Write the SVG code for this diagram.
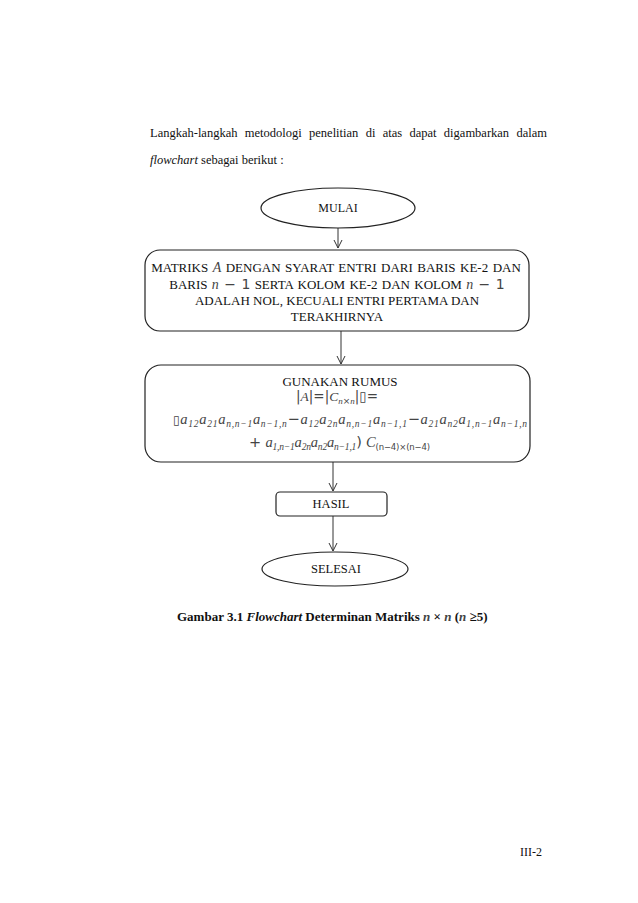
<svg xmlns="http://www.w3.org/2000/svg" width="638" height="903" viewBox="0 0 638 903">
<style>
  .t { font-family: "Liberation Serif", "Times New Roman", serif; fill: #111; }
  .m { font-family: "Liberation Serif", "DejaVu Serif", serif; font-style: italic; fill: #444; }
  .mu { font-family: "DejaVu Sans", "Liberation Sans", sans-serif; fill: #444; }
  .shape { fill: #fff; stroke: #222; stroke-width: 1.2; }
  .conn line { stroke: #333; stroke-width: 1; }
</style>
<defs>
  <marker id="arr" viewBox="0 0 10 10" refX="9" refY="5" markerWidth="10" markerHeight="10" markerUnits="userSpaceOnUse" orient="auto">
    <path d="M1,1 L9,5 L1,9" fill="none" stroke="#333" stroke-width="1"/>
  </marker>
</defs>
<rect width="638" height="903" fill="#fff"/>

<g id="intro">
  <text class="t" x="150" y="137" font-size="12.5" word-spacing="4.2">Langkah-langkah metodologi penelitian di atas  dapat digambarkan dalam</text>
  <text class="t" x="150" y="164" font-size="12.5"><tspan font-style="italic">flowchart</tspan> sebagai berikut :</text>
</g>

<g class="conn" id="connectors">
  <line x1="338" y1="228" x2="338" y2="248" marker-end="url(#arr)"/>
  <line x1="341" y1="331" x2="341" y2="364" marker-end="url(#arr)"/>
  <line x1="333" y1="462" x2="333" y2="491" marker-end="url(#arr)"/>
  <line x1="333" y1="516" x2="333" y2="551" marker-end="url(#arr)"/>
</g>

<g id="mulai">
  <ellipse class="shape" cx="338" cy="208" rx="77" ry="20"/>
  <text class="t" x="338" y="212" font-size="12" text-anchor="middle">MULAI</text>
</g>

<g id="matriks">
  <rect class="shape" x="145" y="250" width="384" height="81" rx="15"/>
  <text class="t" x="336" y="272" font-size="13" text-anchor="middle" word-spacing="1.2">MATRIKS <tspan class="m" font-size="14">A</tspan> DENGAN SYARAT ENTRI DARI BARIS KE-2 DAN</text>
  <text class="t" x="337" y="289" font-size="13" text-anchor="middle" word-spacing="1">BARIS <tspan class="m" font-size="14">n</tspan><tspan class="mu" font-size="14"> − 1</tspan> SERTA KOLOM KE-2  DAN KOLOM <tspan class="m" font-size="14">n</tspan><tspan class="mu" font-size="14"> − 1</tspan></text>
  <text class="t" x="337" y="305" font-size="13" text-anchor="middle">ADALAH NOL, KECUALI ENTRI PERTAMA DAN</text>
  <text class="t" x="337" y="321" font-size="13" text-anchor="middle">TERAKHIRNYA</text>
</g>

<g id="rumus">
  <rect class="shape" x="145" y="365" width="385" height="97" rx="16"/>
  <text class="t" x="340" y="386" font-size="13" text-anchor="middle">GUNAKAN RUMUS</text>
  <text x="337" y="401" font-size="13.5" text-anchor="middle"><tspan class="mu">|</tspan><tspan class="m">A</tspan><tspan class="mu">|=|</tspan><tspan class="m">C</tspan><tspan class="m" font-size="9" dy="3">n</tspan><tspan class="mu" font-size="9">×</tspan><tspan class="m" font-size="9">n</tspan><tspan class="mu" dy="-3">|▯=</tspan></text>
  <text x="173" y="424" font-size="14.5" textLength="354" lengthAdjust="spacing"><tspan class="mu" font-size="12">▯</tspan><tspan class="m">a</tspan><tspan class="m" font-size="9.5" dy="3">12</tspan><tspan class="m" dy="-3">a</tspan><tspan class="m" font-size="9.5" dy="3">21</tspan><tspan class="m" dy="-3">a</tspan><tspan class="m" font-size="9.5" dy="3">n,n−1</tspan><tspan class="m" dy="-3">a</tspan><tspan class="m" font-size="9.5" dy="3">n−1,n</tspan><tspan class="mu" dy="-3">−</tspan><tspan class="m">a</tspan><tspan class="m" font-size="9.5" dy="3">12</tspan><tspan class="m" dy="-3">a</tspan><tspan class="m" font-size="9.5" dy="3">2n</tspan><tspan class="m" dy="-3">a</tspan><tspan class="m" font-size="9.5" dy="3">n,n−1</tspan><tspan class="m" dy="-3">a</tspan><tspan class="m" font-size="9.5" dy="3">n−1,1</tspan><tspan class="mu" dy="-3">−</tspan><tspan class="m">a</tspan><tspan class="m" font-size="9.5" dy="3">21</tspan><tspan class="m" dy="-3">a</tspan><tspan class="m" font-size="9.5" dy="3">n2</tspan><tspan class="m" dy="-3">a</tspan><tspan class="m" font-size="9.5" dy="3">1,n−1</tspan><tspan class="m" dy="-3">a</tspan><tspan class="m" font-size="9.5" dy="3">n−1,n</tspan></text>
  <text x="249" y="447" font-size="14.5" textLength="181" lengthAdjust="spacing"><tspan class="mu">+ </tspan><tspan class="m">a</tspan><tspan class="m" font-size="9.5" dy="3">1,n−1</tspan><tspan class="m" dy="-3">a</tspan><tspan class="m" font-size="9.5" dy="3">2n</tspan><tspan class="m" dy="-3">a</tspan><tspan class="m" font-size="9.5" dy="3">n2</tspan><tspan class="m" dy="-3">a</tspan><tspan class="m" font-size="9.5" dy="3">n−1,1</tspan><tspan class="mu" dy="-3">) </tspan><tspan class="m">C</tspan><tspan class="mu" font-size="8.5" dy="3">(n−4)×(n−4)</tspan></text>
</g>

<g id="hasil">
  <rect class="shape" x="276" y="492" width="111" height="24" rx="4"/>
  <text class="t" x="331" y="508" font-size="12.5" text-anchor="middle">HASIL</text>
</g>

<g id="selesai">
  <ellipse class="shape" cx="335" cy="569" rx="73" ry="17"/>
  <text class="t" x="336" y="573" font-size="12.5" text-anchor="middle">SELESAI</text>
</g>

<g id="caption">
  <text class="t" x="177" y="621" font-size="13" font-weight="bold">Gambar 3.1 <tspan font-style="italic">Flowchart</tspan> Determinan Matriks <tspan class="m" fill="#333">n</tspan> × <tspan class="m" fill="#333">n</tspan> (<tspan class="m" fill="#333">n</tspan> ≥5)</text>
</g>

<g id="page">
  <text class="t" x="520" y="856" font-size="12">III-2</text>
</g>
</svg>
